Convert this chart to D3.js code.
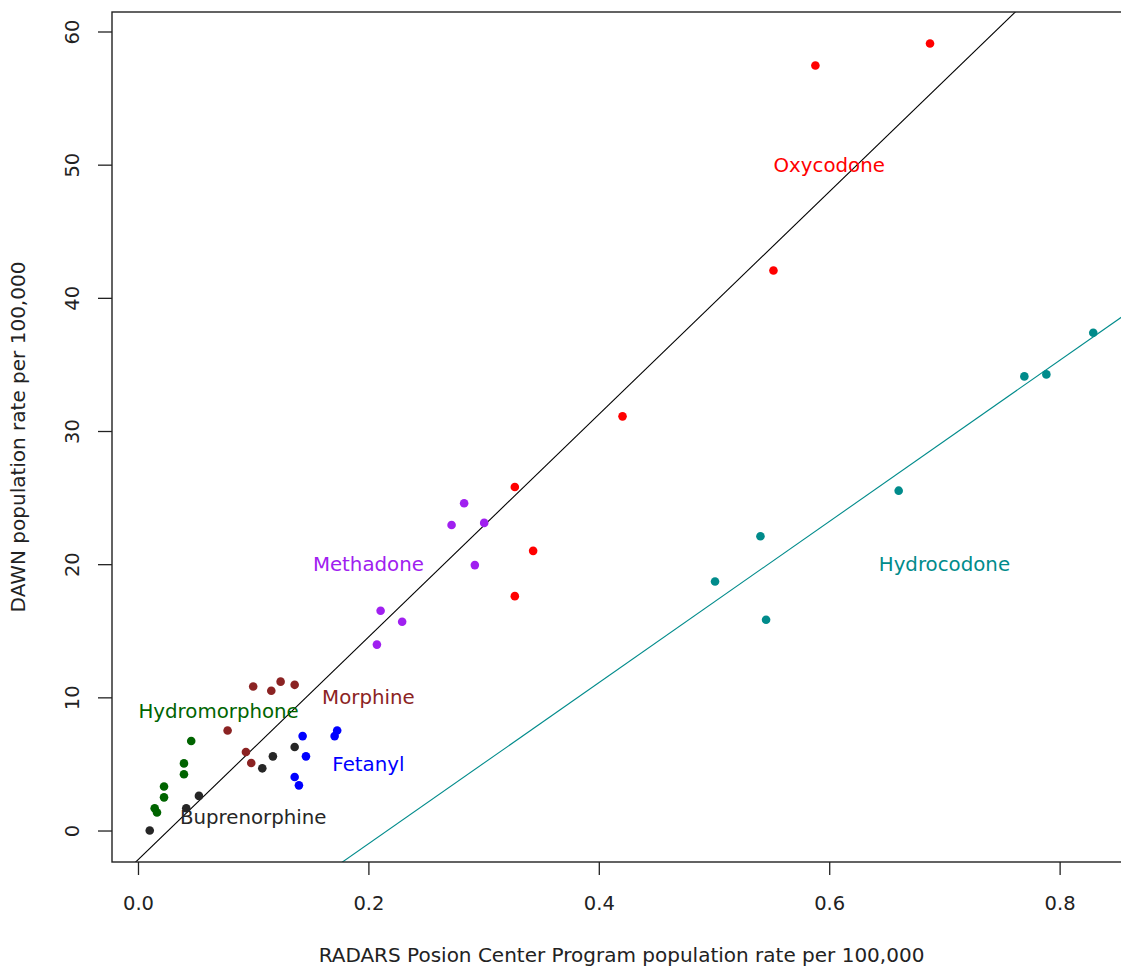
<!DOCTYPE html>
<html>
<head>
<meta charset="utf-8">
<script src="https://cdn.jsdelivr.net/npm/d3@7"></script>
<style>
  html, body { margin: 0; padding: 0; background: #fff; }
  svg { display: block; }
  text { font-family: "DejaVu Sans", sans-serif; }
</style>
</head>
<body>
<svg id="chart" width="1121" height="968"></svg>
<script>
// drug groups, colours and their (RADARS rate, DAWN rate) points
const drugs = ["Oxycodone", "Methadone", "Hydrocodone", "Hydromorphone", "Morphine", "Fetanyl", "Buprenorphine"];
const drugColors = ["#ff0000", "#a020f0", "#008b8b", "#006400", "#8b2323", "#0000ff", "#262626"];

const oxycodone = [[0.588, 57.45], [0.6875, 59.1], [0.5516, 42.05], [0.4206, 31.1], [0.3271, 25.8], [0.343, 21.0], [0.3271, 17.6]];
const methadone = [[0.2831, 24.57], [0.2722, 22.94], [0.3005, 23.1], [0.2924, 19.93], [0.2106, 16.5], [0.2293, 15.68], [0.2074, 13.96]];
const hydrocodone = [[0.8292, 37.38], [0.7694, 34.1], [0.7885, 34.25], [0.6603, 25.52], [0.5403, 22.1], [0.5009, 18.7], [0.5452, 15.83]];
const hydromorphone = [[0.0462, 6.72], [0.0399, 5.04], [0.0399, 4.22], [0.0226, 3.3], [0.0226, 2.49], [0.0145, 1.67], [0.0165, 1.35]];
const morphine = [[0.1, 10.81], [0.1157, 10.49], [0.1238, 11.18], [0.136, 10.94], [0.0778, 7.51], [0.0937, 5.9], [0.0983, 5.07]];
const fentanyl = [[0.1429, 7.09], [0.1458, 5.57], [0.1729, 7.51], [0.1707, 7.09], [0.136, 4.02], [0.1397, 3.39]];
const buprenorphine = [[0.0102, 0.0], [0.0419, 1.67], [0.0529, 2.6], [0.1079, 4.67], [0.1171, 5.57], [0.136, 6.27]];
const drugPoints = [oxycodone, methadone, hydrocodone, hydromorphone, morphine, fentanyl, buprenorphine];

// where each name is written (data units)
const labelX = [0.6, 0.2, 0.7, 0.07, 0.2, 0.2, 0.1];
const labelY = [50, 20, 20, 9, 10, 5, 1];

// fitted lines: all drugs except hydrocodone, and hydrocodone alone
const fitIntercept = [-2.2, -13.1];
const fitSlope = [83.6, 60.5];
const fitColors = ["#000000", "#008b8b"];

const xTicks = [0, 0.2, 0.4, 0.6, 0.8];
const yTicks = [0, 10, 20, 30, 40, 50, 60];

const xTitle = "RADARS Posion Center Program population rate per 100,000";
const yTitle = "DAWN population rate per 100,000";

const svg = d3.select("#chart");
const plot = { left: 112, top: 12, right: 1131, bottom: 862 };

const all = drugPoints.flat();
const xExt = d3.extent(all, d => d[0]);
const yExt = d3.extent(all, d => d[1]);
const xPad = (xExt[1] - xExt[0]) * 0.04;
const yPad = (yExt[1] - yExt[0]) * 0.04;

const x = d3.scaleLinear()
  .domain([xExt[0] - xPad, xExt[1] + xPad])
  .range([plot.left, plot.right]);
const y = d3.scaleLinear()
  .domain([yExt[0] - yPad, yExt[1] + yPad])
  .range([plot.bottom, plot.top]);

svg.append("clipPath").attr("id", "clip")
  .append("rect")
  .attr("x", plot.left).attr("y", plot.top)
  .attr("width", plot.right - plot.left).attr("height", plot.bottom - plot.top);

// regression lines
const body = svg.append("g").attr("clip-path", "url(#clip)");
const xd = x.domain();
body.selectAll("line.fit")
  .data(fitSlope.map((b, i) => ({ a: fitIntercept[i], b: b, color: fitColors[i] })))
  .join("line")
  .attr("class", "fit")
  .attr("x1", x(xd[0])).attr("x2", x(xd[1]))
  .attr("y1", d => y(d.a + d.b * xd[0]))
  .attr("y2", d => y(d.a + d.b * xd[1]))
  .attr("stroke", d => d.color)
  .attr("stroke-width", 1.1);

// points
drugPoints.forEach((pts, i) => {
  body.selectAll(null)
    .data(pts)
    .join("circle")
    .attr("cx", d => x(d[0]))
    .attr("cy", d => y(d[1]))
    .attr("r", 4.3)
    .attr("fill", drugColors[i]);
});

// names
svg.selectAll("text.drug")
  .data(drugs)
  .join("text")
  .attr("class", "drug")
  .attr("x", (d, i) => x(labelX[i]))
  .attr("y", (d, i) => y(labelY[i]))
  .attr("dy", "0.36em")
  .attr("text-anchor", "middle")
  .attr("font-size", 19.8)
  .attr("fill", (d, i) => drugColors[i])
  .text(d => d);

// axes
const xAxis = svg.append("g")
  .attr("transform", `translate(0,${plot.bottom})`)
  .call(d3.axisBottom(x).tickValues(xTicks).tickFormat(d3.format(".1f")).tickSize(13).tickPadding(21));
xAxis.select(".domain").remove();
xAxis.selectAll("text").attr("font-size", 19.5).attr("fill", "#222").style("font-family", "DejaVu Sans");
xAxis.selectAll("line").attr("stroke", "#222").attr("stroke-width", 1.3);

const yAxis = svg.append("g")
  .attr("transform", `translate(${plot.left},0)`)
  .call(d3.axisLeft(y).tickValues(yTicks).tickSize(14).tickPadding(0));
yAxis.select(".domain").remove();
yAxis.selectAll("line").attr("stroke", "#222").attr("stroke-width", 1.3);
yAxis.selectAll("text")
  .attr("x", null).attr("dy", null)
  .attr("text-anchor", "middle")
  .attr("transform", "translate(-33,0) rotate(-90)")
  .attr("font-size", 19.5).attr("fill", "#222").style("font-family", "DejaVu Sans");

// box
svg.append("rect")
  .attr("x", plot.left).attr("y", plot.top)
  .attr("width", plot.right - plot.left).attr("height", plot.bottom - plot.top)
  .attr("fill", "none").attr("stroke", "#222").attr("stroke-width", 1.4);

// titles
svg.append("text")
  .attr("x", (plot.left + plot.right) / 2)
  .attr("y", 962)
  .attr("text-anchor", "middle")
  .attr("font-size", 20).attr("fill", "#222")
  .text(xTitle);

svg.append("text")
  .attr("transform", `translate(25,${(plot.top + plot.bottom) / 2}) rotate(-90)`)
  .attr("text-anchor", "middle")
  .attr("font-size", 20).attr("fill", "#222")
  .text(yTitle);
</script>
</body>
</html>
